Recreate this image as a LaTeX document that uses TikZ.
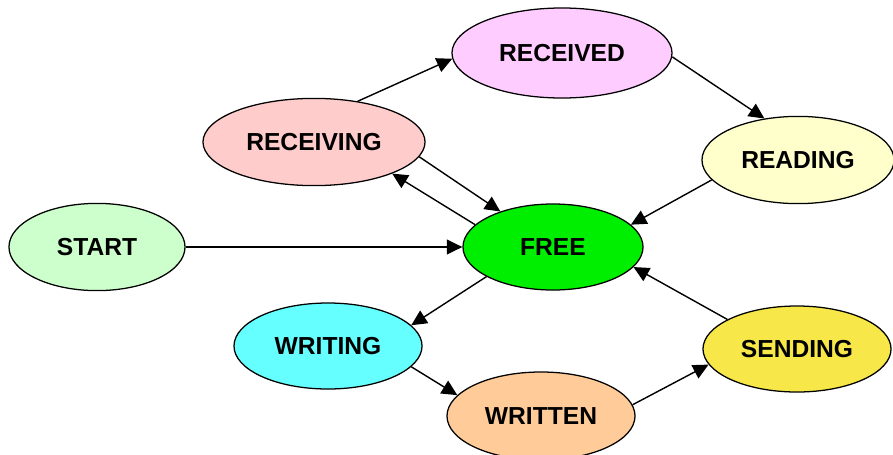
\documentclass[tikz,border=0pt]{standalone}
\usepackage{fontspec}
\setmainfont{Liberation Sans}
\usepackage{tikz}
\usetikzlibrary{positioning}
\usetikzlibrary{arrows.meta,shapes}

\begin{document}
\begin{tikzpicture}[x=0.025cm,y=-0.025cm,
		st/.style={ellipse,draw,line width=0.9pt,inner sep=0pt,minimum width=4.6cm,minimum height=2.18cm,
			font=\fontsize{17.5}{20}\selectfont\bfseries},
		every edge/.style={draw,line width=1pt,-{Triangle[length=11pt,width=10.5pt]}}]
		\useasboundingbox (0,0) rectangle (893,454);
		\node[st,fill={rgb,255:red,204;green,255;blue,204},minimum width=4.4cm] (start) at (97,247) {START};
		\node[st,fill={rgb,255:red,255;green,204;blue,204},minimum width=5.55cm] (receiving) at (314,142) {RECEIVING};
		\node[st,fill={rgb,255:red,255;green,204;blue,255},minimum width=5.5cm,minimum height=2.25cm] (received) at (562,53) {RECEIVED};
		\node[st,fill={rgb,255:red,255;green,255;blue,204},minimum width=4.8cm] (reading) at (798,160) {READING};
		\node[st,fill={rgb,255:red,0;green,238;blue,0},minimum width=4.5cm,minimum height=2.15cm] (free) at (553,247) {FREE};
		\node[st,fill={rgb,255:red,102;green,255;blue,255},minimum width=4.7cm,minimum height=2.15cm] (writing) at (328,346) {WRITING};
		\node[st,fill={rgb,255:red,255;green,204;blue,153},minimum width=4.7cm,minimum height=2.2cm] (written) at (541,416) {WRITTEN};
		\node[st,fill={rgb,255:red,247;green,231;blue,72},minimum width=4.7cm,minimum height=2.15cm] (sending) at (797,349) {SENDING};
		
		\path
		(start) edge (free)
		(receiving.43) edge (received.183)
		(receiving.352) edge (free.146)
		(received.358) edge (reading.129)
		(reading.193) edge (free.16)
		(free.164) edge (receiving.338)
		(free.204) edge (writing.14)
		(writing.346) edge (written.166)
		(written.7) edge (sending.190)
		(sending.157) edge (free.346)
		;
\end{tikzpicture}
\end{document}
